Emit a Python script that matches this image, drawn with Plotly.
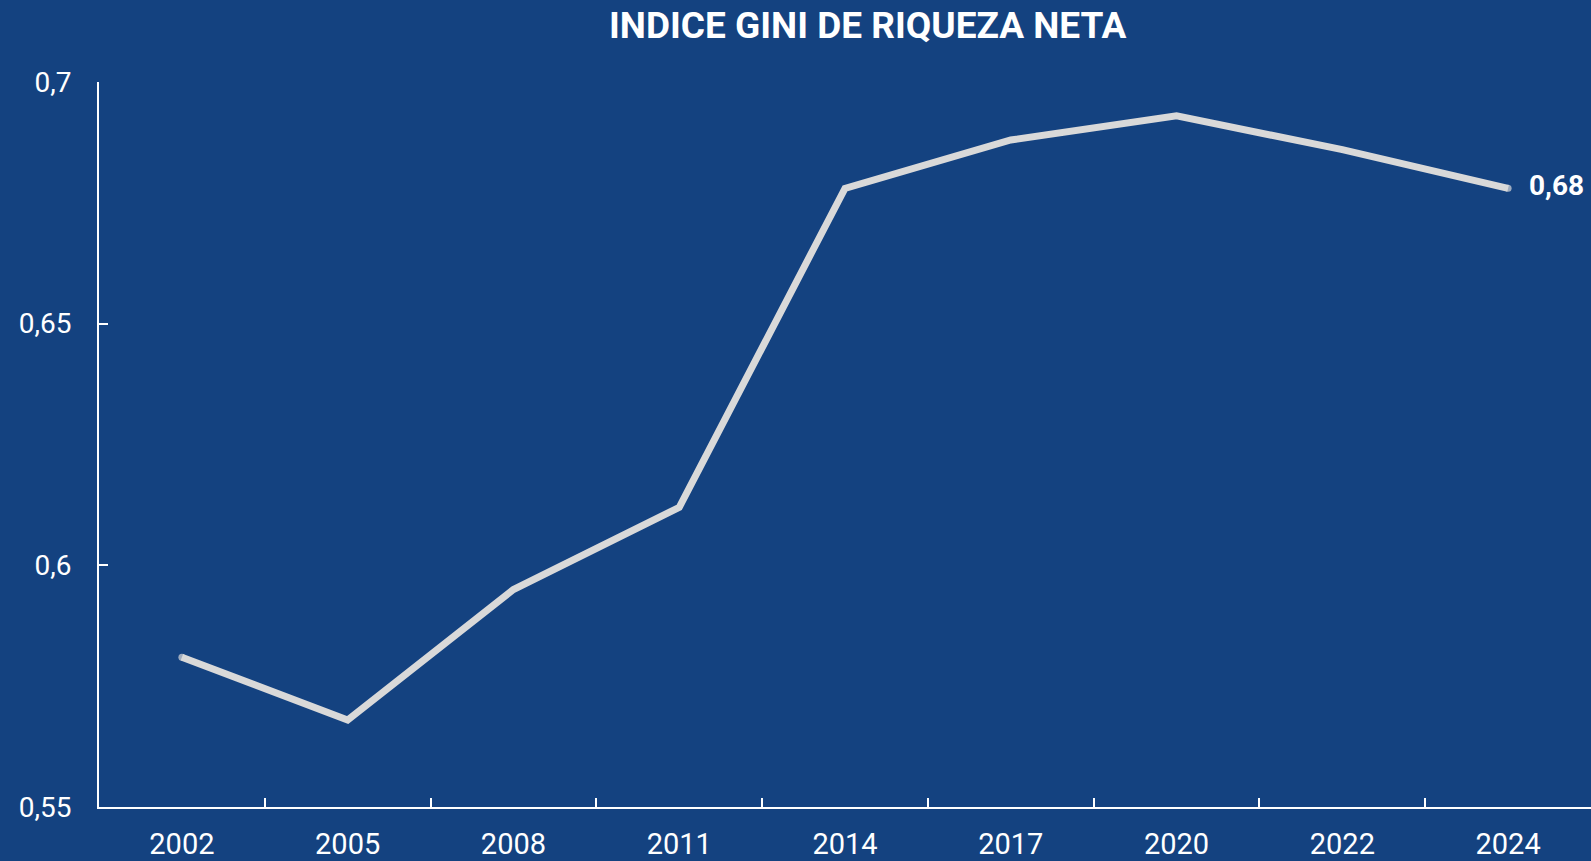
import plotly.graph_objects as go

# Net wealth Gini index by survey year
years = ["2002", "2005", "2008", "2011", "2014", "2017", "2020", "2022", "2024"]
gini = [0.581, 0.568, 0.595, 0.612, 0.678, 0.688, 0.693, 0.686, 0.678]

y_ticks = [0.55, 0.6, 0.65, 0.7]
y_tick_text = ["0,55", "0,6", "0,65", "0,7"]

title_text = "INDICE GINI DE RIQUEZA NETA"

BG = "#144280"
LINE = "#d9d9d9"
FONT = "Roboto"
LW = 7

fig = go.Figure()

# round caps at both ends of the line
end_sizes = [LW] + [0] * (len(gini) - 2) + [LW]

fig.add_trace(go.Scatter(
    x=years,
    y=gini,
    mode="lines+markers",
    line=dict(color=LINE, width=LW),
    marker=dict(color=LINE, size=end_sizes, line=dict(width=0)),
    cliponaxis=False,
    hoverinfo="x+y",
))

# value label for the latest year
last_label = "<b>" + f"{gini[-1]:.2f}".replace(".", ",") + "</b>"
fig.add_trace(go.Scatter(
    x=[years[-1]],
    y=[gini[-1]],
    mode="text",
    text=["   " + last_label],
    textposition="middle right",
    textfont=dict(family=FONT, size=28, color="white"),
    cliponaxis=False,
    hoverinfo="skip",
))

fig.add_annotation(
    xref="paper", yref="paper",
    x=0.515, y=1 + (82 - 25) / 727,
    text="<b>" + title_text + "</b>",
    showarrow=False,
    xanchor="center", yanchor="middle",
    font=dict(family=FONT, size=37, color="white"),
)

fig.update_layout(
    width=1591, height=861,
    paper_bgcolor=BG, plot_bgcolor=BG,
    margin=dict(l=99, r=0, t=82, b=52),
    showlegend=False,
    font=dict(family=FONT, color="white"),
    xaxis=dict(
        type="category",
        range=[-0.5, len(years) - 0.5],
        showgrid=False, zeroline=False,
        showline=True, linecolor="white", linewidth=2,
        ticks="inside", tickson="boundaries", ticklen=9,
        tickwidth=2, tickcolor="white",
        tickfont=dict(family=FONT, size=29, color="white"),
        ticklabelstandoff=10,
    ),
    yaxis=dict(
        range=[0.55, 0.7],
        tickvals=y_ticks, ticktext=y_tick_text,
        showgrid=False, zeroline=False,
        showline=True, linecolor="white", linewidth=2,
        ticks="inside", ticklen=9, tickwidth=2, tickcolor="white",
        tickfont=dict(family=FONT, size=28, color="white"),
        ticklabelstandoff=20,
    ),
)

fig.write_html("out.html")
